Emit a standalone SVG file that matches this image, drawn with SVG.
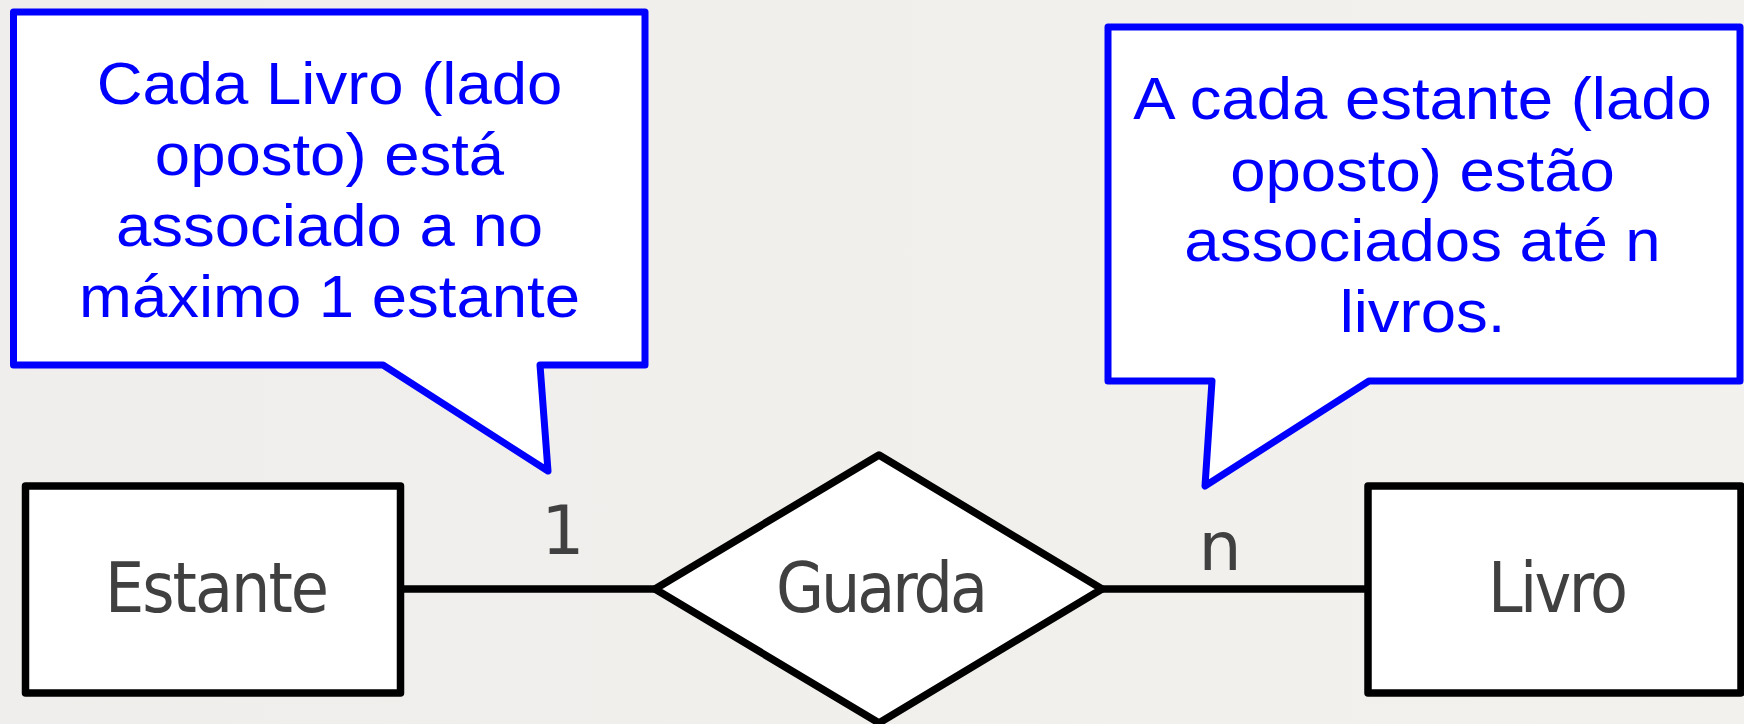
<svg xmlns="http://www.w3.org/2000/svg" width="1744" height="724" viewBox="0 0 1744 724">
  <defs>
    <linearGradient id="bg" x1="0" y1="0" x2="1" y2="0">
      <stop offset="0" stop-color="#efeeec"/>
      <stop offset="1" stop-color="#f3f1ed"/>
    </linearGradient>
  </defs>
  <style>
    .callout { fill: #ffffff; stroke: #0000ff; stroke-width: 7; stroke-linejoin: round; }
    .ctext { font-family: "Liberation Sans", Arial, sans-serif; font-size: 59px; fill: #0000ff; text-anchor: middle; }
    .shape { fill: #ffffff; stroke: #000000; stroke-width: 7.5; stroke-linejoin: round; }
    .label { font-family: "DejaVu Sans", sans-serif; font-stretch: condensed; font-size: 69px; fill: #404040; text-anchor: middle; }
    .card { font-family: "DejaVu Sans", sans-serif; font-size: 68px; fill: #404040; text-anchor: middle; }
    .conn { stroke: #000000; stroke-width: 7.5; fill: none; }
  </style>
  <rect x="0" y="0" width="1744" height="724" fill="url(#bg)"/>

  <g id="connectors">
    <line class="conn" x1="400" y1="589" x2="655" y2="589"/>
    <line class="conn" x1="1102" y1="589" x2="1368" y2="589"/>
    <text class="card" x="563" y="554">1</text>
    <text class="card" x="1220" y="570">n</text>
  </g>

  <g id="callout-left">
    <path class="callout" d="M13.5,12 H645 V365 H540 L548,471 L383,365 H13.5 Z"/>
    <g transform="translate(329.5,0) scale(1.076,1)">
      <text class="ctext" x="0" y="104">Cada Livro (lado</text>
      <text class="ctext" x="0" y="175.5">oposto) está</text>
      <text class="ctext" x="0" y="246.5">associado a no</text>
      <text class="ctext" x="0" y="317.5">máximo 1 estante</text>
    </g>
  </g>

  <g id="callout-right">
    <path class="callout" d="M1108,27 H1740 V381 H1369 L1205,486 L1212,381 H1108 Z"/>
    <g transform="translate(1422.5,0) scale(1.076,1)">
      <text class="ctext" x="0" y="119">A cada estante (lado</text>
      <text class="ctext" x="0" y="191">oposto) estão</text>
      <text class="ctext" x="0" y="261">associados até n</text>
      <text class="ctext" x="0" y="332.5">livros.</text>
    </g>
  </g>

  <g id="node-estante">
    <rect class="shape" x="25.5" y="486" width="375" height="207"/>
    <text class="label" x="217" y="612" textLength="224" lengthAdjust="spacing">Estante</text>
  </g>

  <g id="node-guarda">
    <polygon class="shape" points="655,589 879,455 1102,589 879,723"/>
    <text class="label" x="882" y="612" textLength="212" lengthAdjust="spacing">Guarda</text>
  </g>

  <g id="node-livro">
    <rect class="shape" x="1368" y="486" width="373" height="207"/>
    <text class="label" x="1558" y="612" textLength="140" lengthAdjust="spacing">Livro</text>
  </g>
</svg>
